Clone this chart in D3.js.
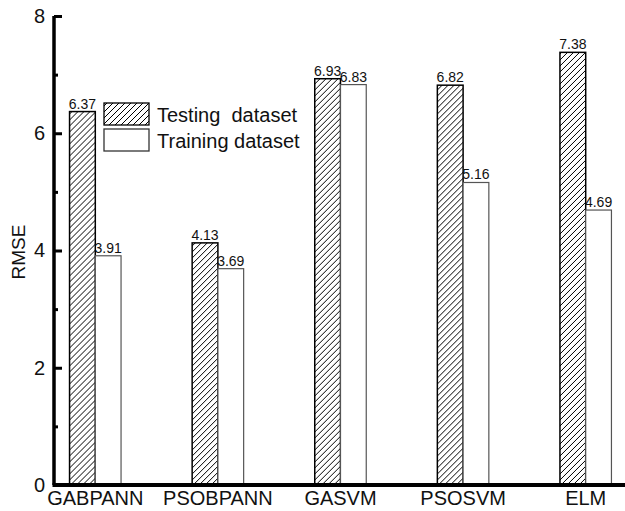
<!DOCTYPE html>
<html>
<head>
<meta charset="utf-8">
<script src="https://cdn.jsdelivr.net/npm/d3@7"></script>
<style>
  html, body { margin: 0; padding: 0; background: #fff; }
  svg { display: block; font-family: Arial, "Liberation Sans", sans-serif; }
</style>
</head>
<body>
<svg id="chart" width="625" height="511"></svg>
<script>
// Model names on the x axis
const models = ["GABPANN", "PSOBPANN", "GASVM", "PSOSVM", "ELM"];
// Series shown in each group
const seriesNames = ["Testing  dataset", "Training dataset"];
// RMSE values per model
const testingRMSE = [6.37, 4.13, 6.93, 6.82, 7.38];
const trainingRMSE = [3.91, 3.69, 6.83, 5.16, 4.69];
// Y axis ticks
const majorTicks = [0, 2, 4, 6, 8];
const minorTicks = [1, 3, 5, 7];

const svg = d3.select("#chart");
const axisX = 54, baseY = 485, topY = 16;

const x0 = d3.scaleBand().domain(models).range([34, 647])
  .paddingInner(0.58).paddingOuter(0.29);
const x1 = d3.scaleBand().domain(seriesNames).range([0, x0.bandwidth()]);
const y = d3.scaleLinear().domain([0, 8]).range([baseY, topY]);

// Diagonal hatch fill for the testing bars
const defs = svg.append("defs");
const pat = defs.append("pattern")
  .attr("id", "hatch").attr("patternUnits", "userSpaceOnUse")
  .attr("width", 6).attr("height", 6);
pat.append("rect").attr("width", 6).attr("height", 6).attr("fill", "#fff");
pat.append("path")
  .attr("d", "M0,6 L6,0 M-1,1 L1,-1 M5,7 L7,5")
  .attr("stroke", "#000").attr("stroke-width", 1);

const rows = models.map((m, i) => ({
  model: m,
  values: [
    { series: seriesNames[0], value: testingRMSE[i] },
    { series: seriesNames[1], value: trainingRMSE[i] }
  ]
}));

const groups = svg.append("g").selectAll("g").data(rows).join("g")
  .attr("transform", d => `translate(${x0(d.model)},0)`);

groups.selectAll("rect").data(d => d.values).join("rect")
  .attr("x", d => x1(d.series))
  .attr("y", d => y(d.value))
  .attr("width", x1.bandwidth())
  .attr("height", d => y(0) - y(d.value))
  .attr("fill", (d, i) => i === 0 ? "url(#hatch)" : "#fff")
  .attr("stroke", (d, i) => i === 0 ? "#000" : "#555")
  .attr("stroke-width", (d, i) => i === 0 ? 1.5 : 1.2);

groups.selectAll("text").data(d => d.values).join("text")
  .attr("x", d => x1(d.series) + x1.bandwidth() / 2)
  .attr("y", d => y(d.value) - 3)
  .attr("text-anchor", "middle")
  .attr("font-size", 14)
  .attr("fill", "#111")
  .text(d => d.value.toFixed(2));

// Y axis: major ticks pointing inward with labels, plus short minor ticks
const yAxis = svg.append("g").attr("transform", `translate(${axisX},0)`)
  .call(d3.axisLeft(y).tickValues(majorTicks).tickSize(-8).tickPadding(9)
    .tickFormat(d3.format("d")));
yAxis.select(".domain").attr("stroke", "#000").attr("stroke-width", 3.5)
  .attr("d", `M0,${topY}V${baseY}`);
yAxis.selectAll(".tick line").attr("stroke", "#000").attr("stroke-width", 3);
yAxis.selectAll(".tick text").attr("font-size", 20).attr("fill", "#111")
  .attr("font-family", "Arial, 'Liberation Sans', sans-serif");

const yMinor = svg.append("g").attr("transform", `translate(${axisX},0)`)
  .call(d3.axisLeft(y).tickValues(minorTicks).tickSize(-4).tickFormat(""));
yMinor.select(".domain").remove();
yMinor.selectAll(".tick line").attr("stroke", "#000").attr("stroke-width", 3);

// X axis baseline with category labels
const xAxis = svg.append("g").attr("transform", `translate(0,${baseY})`)
  .call(d3.axisBottom(x0).tickSize(0).tickPadding(6));
xAxis.select(".domain").attr("stroke", "#000").attr("stroke-width", 4)
  .attr("d", `M${axisX - 1.5},0H625`);
xAxis.selectAll(".tick text").attr("font-size", 20).attr("fill", "#111")
  .attr("font-family", "Arial, 'Liberation Sans', sans-serif")
  .attr("dy", "0.71em");

// Y axis title
svg.append("text")
  .attr("transform", `translate(25,252) rotate(-90)`)
  .attr("text-anchor", "middle")
  .attr("font-size", 19).attr("fill", "#111")
  .text("RMSE");

// Legend
const legend = svg.append("g");
const legendItems = [
  { name: seriesNames[0], fill: "url(#hatch)", stroke: "#000", y: 103 },
  { name: seriesNames[1], fill: "#fff", stroke: "#333", y: 129 }
];
legend.selectAll("rect").data(legendItems).join("rect")
  .attr("x", 104).attr("y", d => d.y)
  .attr("width", 45).attr("height", 22)
  .attr("fill", d => d.fill).attr("stroke", d => d.stroke).attr("stroke-width", 1.3);
legend.selectAll("text").data(legendItems).join("text")
  .attr("x", 157).attr("y", d => d.y + 19)
  .attr("font-size", 20).attr("fill", "#111")
  .attr("xml:space", "preserve").style("white-space", "pre")
  .text(d => d.name);
</script>
</body>
</html>
